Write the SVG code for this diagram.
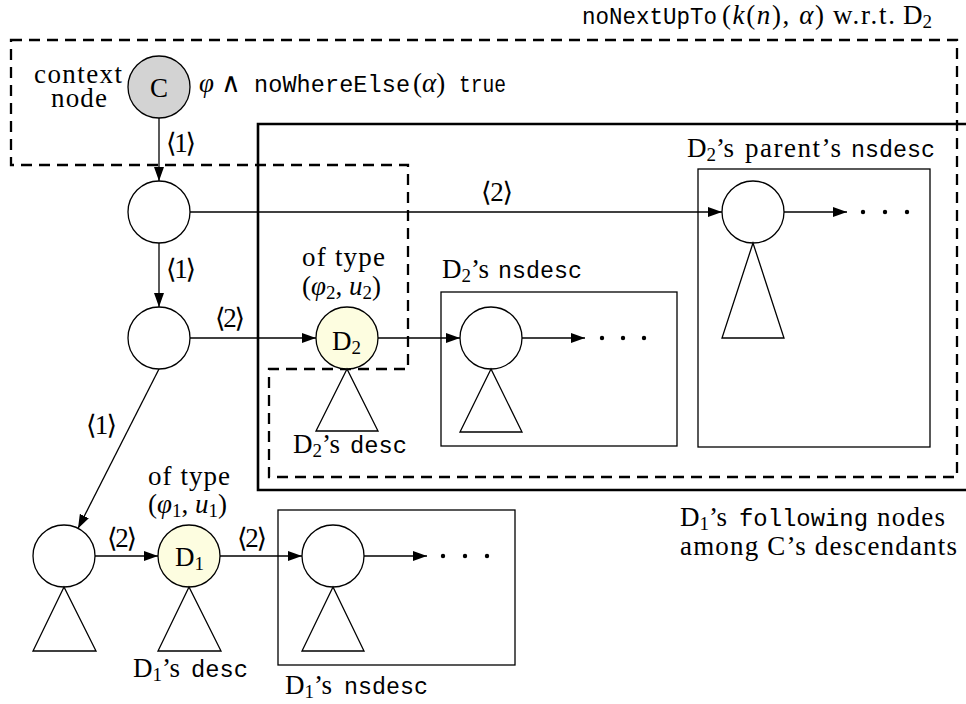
<svg xmlns="http://www.w3.org/2000/svg" width="966" height="704" viewBox="0 0 966 704">
<style>
.t{font-family:"Liberation Serif","DejaVu Serif",serif;font-size:27px;fill:#000}
.m{font-family:"Liberation Mono","DejaVu Sans Mono",monospace;font-size:23.5px;fill:#000}
.i{font-style:italic}
.sb{font-size:19px}
.op{font-family:"DejaVu Sans","Noto Sans",sans-serif;font-size:27px;font-weight:200;fill:#000}
.node{stroke:#000;stroke-width:1.3;fill:#fff}
.grey{fill:#d3d3d3}
.yel{fill:#fdfde0}
.tri{stroke:#000;stroke-width:1.3;fill:#fff}
.box{stroke:#000;stroke-width:1.3;fill:none}
.edge{stroke:#000;stroke-width:1.3;fill:none;marker-end:url(#ah)}
.dot{fill:#000}
</style>
<defs>
<marker id="ah" markerUnits="userSpaceOnUse" markerWidth="15" markerHeight="11" refX="14" refY="5" orient="auto">
<path d="M0,0 L14,5 L0,10 Z" fill="#000"/>
</marker>
</defs>
<rect width="966" height="704" fill="#fff"/>

<g id="regions">
<polygon points="11,40 957,40 957,477 269,477 269,369 408,369 408,165 11,165" fill="none" stroke="#000" stroke-width="2.3" stroke-dasharray="11 7"/>
<path d="M975,124 H258 V490 H975" fill="none" stroke="#000" stroke-width="2.6"/>
<rect x="441" y="292" width="236" height="154" class="box"/>
<rect x="698" y="169" width="232" height="278" class="box"/>
<rect x="278" y="510" width="237" height="155" class="box"/>
</g>

<g id="connectors">
<line x1="159" y1="118" x2="159" y2="181" class="edge"/>
<line x1="159" y1="243" x2="159" y2="307" class="edge"/>
<line x1="190" y1="212" x2="722" y2="212" class="edge"/>
<line x1="784" y1="212" x2="847" y2="212" class="edge"/>
<line x1="190" y1="338" x2="316" y2="338" class="edge"/>
<line x1="378" y1="338" x2="460" y2="338" class="edge"/>
<line x1="522" y1="338" x2="585" y2="338" class="edge"/>
<line x1="159" y1="369" x2="78" y2="528.5" class="edge"/>
<line x1="95" y1="556" x2="158" y2="556" class="edge"/>
<line x1="220" y1="556" x2="302" y2="556" class="edge"/>
<line x1="364" y1="556" x2="427" y2="556" class="edge"/>
<circle cx="863" cy="212" r="2.2" class="dot"/><circle cx="885" cy="212" r="2.2" class="dot"/><circle cx="907" cy="212" r="2.2" class="dot"/>
<circle cx="602" cy="338" r="2.2" class="dot"/><circle cx="623" cy="338" r="2.2" class="dot"/><circle cx="644" cy="338" r="2.2" class="dot"/>
<circle cx="443" cy="556" r="2.2" class="dot"/><circle cx="465" cy="556" r="2.2" class="dot"/><circle cx="487" cy="556" r="2.2" class="dot"/>
<text class="t" x="166" y="152" textLength="30" lengthAdjust="spacing">⟨1⟩</text>
<text class="t" x="166" y="278" textLength="30" lengthAdjust="spacing">⟨1⟩</text>
<text class="t" x="481" y="201" textLength="32" lengthAdjust="spacing">⟨2⟩</text>
<text class="t" x="215" y="327" textLength="30" lengthAdjust="spacing">⟨2⟩</text>
<text class="t" x="86" y="434" textLength="31" lengthAdjust="spacing">⟨1⟩</text>
<text class="t" x="107" y="547" textLength="30" lengthAdjust="spacing">⟨2⟩</text>
<text class="t" x="237" y="547" textLength="30" lengthAdjust="spacing">⟨2⟩</text>
</g>

<g id="node-C">
<circle cx="159" cy="87" r="31" class="node grey"/>
<text class="t" x="159" y="97" text-anchor="middle">C</text>
<text class="t" x="78" y="83" text-anchor="middle" textLength="88" lengthAdjust="spacing">context</text>
<text class="t" x="79" y="107" text-anchor="middle" textLength="56" lengthAdjust="spacing">node</text>
<text class="t i" x="199" y="92">φ</text>
<text class="op" x="221" y="92">∧</text>
<text class="m" x="254" y="92" textLength="156" lengthAdjust="spacing">noWhereElse</text>
<text class="t" x="413" y="92">(<tspan class="i">α</tspan>)</text>
<text class="m" x="459" y="92" textLength="47" lengthAdjust="spacingAndGlyphs">true</text>
</g>

<g id="node-n2">
<circle cx="159" cy="212" r="31" class="node"/>
</g>
<g id="node-n3">
<circle cx="159" cy="338" r="31" class="node"/>
</g>

<g id="node-D2">
<circle cx="347" cy="338" r="31" class="node yel"/>
<polygon points="347,369 316,431 378,431" class="tri"/>
<text class="t" x="332" y="350">D<tspan class="sb" dy="4">2</tspan></text>
<text class="t" x="302" y="266" textLength="83" lengthAdjust="spacing">of type</text>
<text class="t" x="302" y="295">(<tspan class="i">φ</tspan><tspan class="sb" dy="4">2</tspan><tspan dy="-4">, </tspan><tspan class="i">u</tspan><tspan class="sb" dy="4">2</tspan><tspan dy="-4">)</tspan></text>
<text class="t" x="293" y="453">D<tspan class="sb" dy="4">2</tspan><tspan dy="-4">’s</tspan></text>
<text class="m" x="350" y="453" textLength="57" lengthAdjust="spacingAndGlyphs">desc</text>
</g>

<g id="node-D2ns">
<circle cx="491" cy="338" r="31" class="node"/>
<polygon points="491,369 460,432 522,432" class="tri"/>
<text class="t" x="442" y="278">D<tspan class="sb" dy="4">2</tspan><tspan dy="-4">’s</tspan></text>
<text class="m" x="498" y="278" textLength="84" lengthAdjust="spacingAndGlyphs">nsdesc</text>
</g>

<g id="node-parentns">
<circle cx="753" cy="212" r="31" class="node"/>
<polygon points="753,243 722,338 784,338" class="tri"/>
<text class="t" x="687" y="157">D<tspan class="sb" dy="4">2</tspan><tspan dy="-4">’s</tspan></text>
<text class="t" x="745" y="157" textLength="96" lengthAdjust="spacing">parent’s</text>
<text class="m" x="851" y="157" textLength="84" lengthAdjust="spacingAndGlyphs">nsdesc</text>
</g>

<g id="node-n4">
<circle cx="64" cy="556" r="31" class="node"/>
<polygon points="64,587 33,651 96,651" class="tri"/>
</g>

<g id="node-D1">
<circle cx="189" cy="556" r="31" class="node yel"/>
<polygon points="189,587 158,651 221,651" class="tri"/>
<text class="t" x="175" y="566">D<tspan class="sb" dy="4">1</tspan></text>
<text class="t" x="148" y="485" textLength="82" lengthAdjust="spacing">of type</text>
<text class="t" x="148" y="513">(<tspan class="i">φ</tspan><tspan class="sb" dy="4">1</tspan><tspan dy="-4">, </tspan><tspan class="i">u</tspan><tspan class="sb" dy="4">1</tspan><tspan dy="-4">)</tspan></text>
<text class="t" x="133" y="677">D<tspan class="sb" dy="4">1</tspan><tspan dy="-4">’s</tspan></text>
<text class="m" x="191" y="677" textLength="57" lengthAdjust="spacingAndGlyphs">desc</text>
</g>

<g id="node-D1ns">
<circle cx="333" cy="556" r="31" class="node"/>
<polygon points="333,587 302,651 364,651" class="tri"/>
<text class="t" x="285" y="694">D<tspan class="sb" dy="4">1</tspan><tspan dy="-4">’s</tspan></text>
<text class="m" x="344" y="694" textLength="84" lengthAdjust="spacingAndGlyphs">nsdesc</text>
</g>

<g id="labels">
<text class="m" x="582" y="24" textLength="135" lengthAdjust="spacingAndGlyphs">noNextUpTo</text>
<text class="t" x="722" y="24" textLength="102" lengthAdjust="spacing">(<tspan class="i">k</tspan>(<tspan class="i">n</tspan>), <tspan class="i">α</tspan>)</text>
<text class="t" x="833" y="24" textLength="62" lengthAdjust="spacing">w.r.t.</text>
<text class="t" x="903" y="24">D<tspan class="sb" dy="4">2</tspan></text>
<text class="t" x="680" y="526">D<tspan class="sb" dy="4">1</tspan><tspan dy="-4">’s</tspan></text>
<text class="m" x="739" y="526" textLength="129" lengthAdjust="spacingAndGlyphs">following</text>
<text class="t" x="877" y="526" textLength="68" lengthAdjust="spacing">nodes</text>
<text class="t" x="680" y="555" textLength="277" lengthAdjust="spacing">among C’s descendants</text>
</g>
</svg>
